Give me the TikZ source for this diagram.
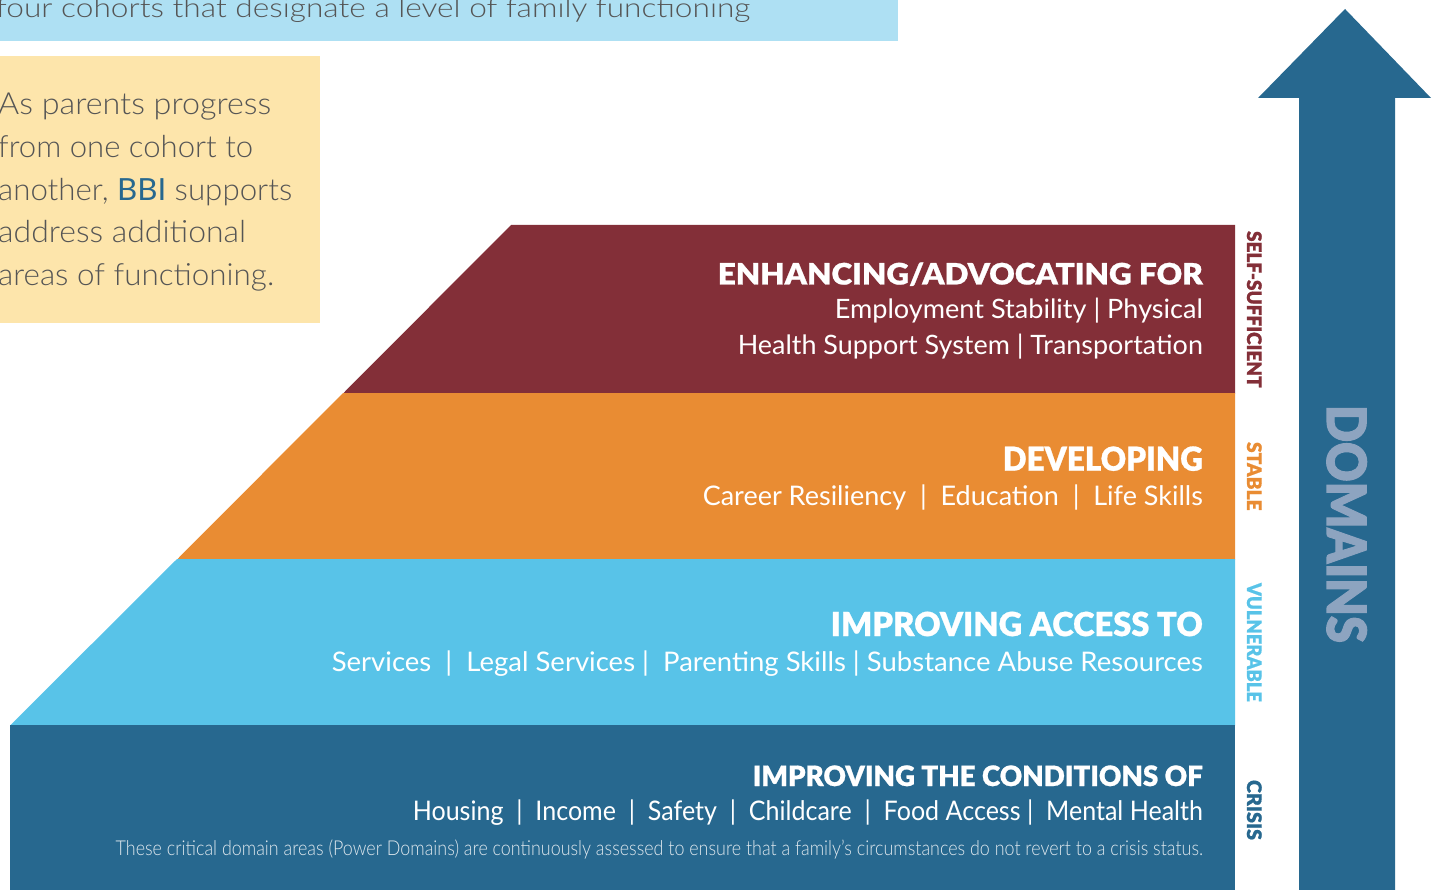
\documentclass[tikz,border=0pt]{standalone}
\usepackage{fontspec}
\usepackage{graphicx}
\setmainfont{Lato}
\newfontfamily\lightf{Lato Light}
\newfontfamily\heavyf[FakeBold=0.8]{Lato Black}
\newfontfamily\domainf[FakeBold=2]{Lato Black}
\definecolor{bannerblue}{HTML}{AEE0F3}
\definecolor{noteyellow}{HTML}{FDE5AB}
\definecolor{tierred}{HTML}{832F38}
\definecolor{tierorange}{HTML}{E98C33}
\definecolor{tierlight}{HTML}{58C3E8}
\definecolor{tierdark}{HTML}{27688F}
\definecolor{domaintext}{HTML}{8DA4C0}
\definecolor{graytext}{HTML}{555555}
\newcommand{\fw}[2]{\resizebox{#1}{\height}{#2}}
\newcommand{\fsz}[1]{\fontsize{#1pt}{#1pt}\selectfont}
\tikzset{
  headtext/.style={anchor=base east, inner sep=0pt, text=white},
  sidelabel/.style={anchor=base, inner sep=0pt, rotate=-90},
  notetext/.style={anchor=base west, inner sep=0pt, text=graytext},
}
\begin{document}
\begin{tikzpicture}[x=1pt,y=-1pt]
\useasboundingbox (0,0) rectangle (1439,890);
% banner and note
\fill[bannerblue] (0,0) rectangle (898,41);
\node[notetext] (banner) at (-4,17.3) {\lightf\fsz{27}\fw{754pt}{four cohorts that designate a level of family functioning}};
\fill[noteyellow] (0,56) rectangle (320,323);
\node[notetext] (n1) at (-2,115) {\lightf\fsz{30.5}\fw{273pt}{As parents progress}};
\node[notetext] (n2) at (-2,158) {\lightf\fsz{30.5}\fw{255pt}{from one cohort to}};
\node[notetext] (n3) at (-2,201) {\lightf\fsz{30.5}\fw{294pt}{another, \textcolor{tierdark}{\fontspec{Lato}BBI} supports}};
\node[notetext] (n4) at (-2,243) {\lightf\fsz{30.5}\fw{248pt}{address additional}};
\node[notetext] (n5) at (-2,286) {\lightf\fsz{30.5}\fw{276pt}{areas of functioning.}};
% tiers
\fill[tierred] (511,225) -- (1235,225) -- (1235,393.5) -- (343,393.5) -- cycle;
\fill[tierorange] (343,393) -- (1235,393) -- (1235,559.5) -- (177,559.5) -- cycle;
\fill[tierlight] (177,559) -- (1235,559) -- (1235,725.5) -- (10,725.5) -- cycle;
\fill[tierdark] (10,725) rectangle (1235,890);
% tier texts
\node[headtext] (h1) at (1203,284.5) {\heavyf\fsz{29.5}\fw{485pt}{ENHANCING/ADVOCATING FOR}};
\node[headtext] (i1a) at (1203,319) {\fsz{26.7}\fw{368pt}{Employment Stability | Physical}};
\node[headtext] (i1b) at (1203,354) {\fsz{26.7}\fw{465pt}{Health Support System | Transportation}};
\node[headtext] (h2) at (1203,470.7) {\heavyf\fsz{33}\fw{200pt}{DEVELOPING}};
\node[headtext] (i2) at (1203,505) {\fsz{27}\fw{500pt}{Career Resiliency\ \ |\ \ Education\ \ |\ \ Life Skills}};
\node[headtext] (h3) at (1203,636) {\heavyf\fsz{33}\fw{372pt}{IMPROVING ACCESS TO}};
\node[headtext] (i3) at (1203,671) {\fsz{27}\fw{871pt}{Services\ \ |\ \ Legal Services\ |\ \ Parenting Skills | Substance Abuse Resources}};
\node[headtext] (h4) at (1203,786) {\heavyf\fsz{28}\fw{450pt}{IMPROVING THE CONDITIONS OF}};
\node[headtext] (i4) at (1203,820) {\fsz{27}\fw{790pt}{Housing\ \ |\ \ Income\ \ |\ \ Safety\ \ |\ \ Childcare\ \ |\ \ Food Access\ |\ \ Mental Health}};
\node[headtext, text=white!85!tierdark] (note) at (1203,855.7) {\lightf\fsz{20.5}\fw{1087pt}{These critical domain areas (Power Domains) are continuously assessed to ensure that a family’s circumstances do not revert to a crisis status.}};
% side labels
\node[sidelabel, text=tierred] (s1) at (1247,309.3) {\heavyf\fsz{20}\fw{156.5pt}{SELF-SUFFICIENT}};
\node[sidelabel, text=tierorange] (s2) at (1247,476.3) {\heavyf\fsz{20}\fw{68.6pt}{STABLE}};
\node[sidelabel, text=tierlight] (s3) at (1247,642.5) {\heavyf\fsz{20}\fw{119pt}{VULNERABLE}};
\node[sidelabel, text=tierdark] (s4) at (1247,810) {\heavyf\fsz{20}\fw{60pt}{CRISIS}};
% arrow
\fill[tierdark] (1345,9) -- (1431,98) -- (1395,98) -- (1395,890) -- (1299,890) -- (1299,98) -- (1258,98) -- cycle;
\node[sidelabel, text=domaintext] (domains) at (1327,524) {\domainf\fsz{54}\fw{238pt}{DOMAINS}};
\end{tikzpicture}
\end{document}
